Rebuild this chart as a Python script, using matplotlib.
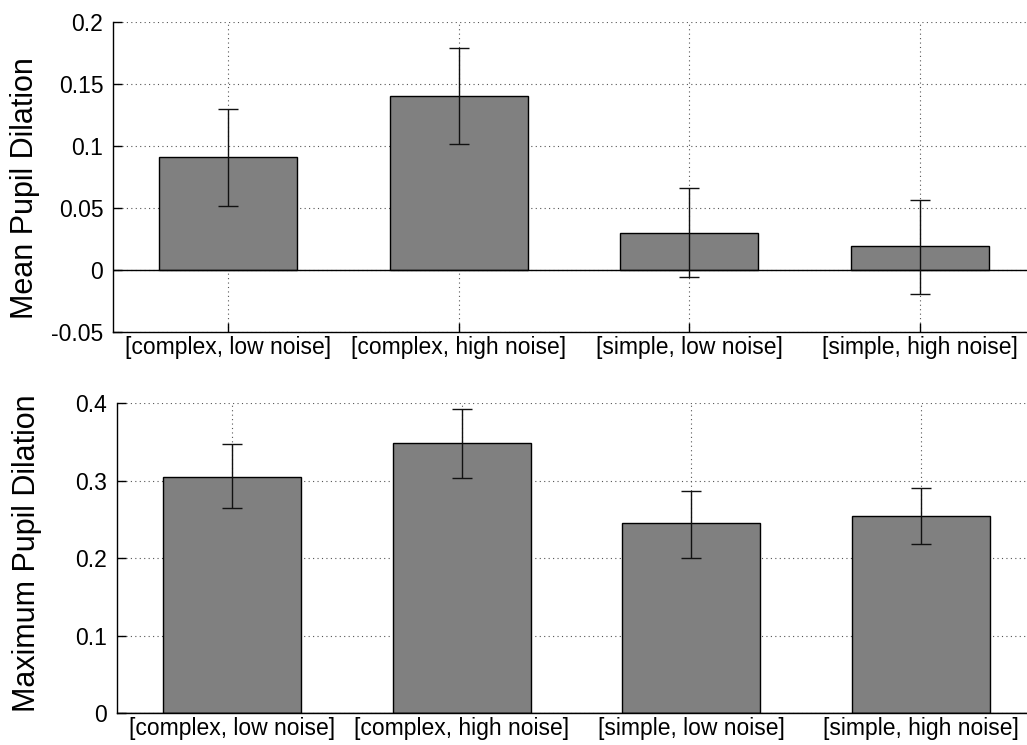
import matplotlib
matplotlib.use("Agg")
import matplotlib.pyplot as plt
import numpy as np

plt.rcParams['font.family'] = ['Liberation Sans', 'DejaVu Sans']

categories = ["[complex, low noise]", "[complex, high noise]",
              "[simple, low noise]", "[simple, high noise]"]

mean_vals = [0.091, 0.140, 0.030, 0.019]
mean_err_low = [0.0517, 0.1018, -0.0054, -0.0191]
mean_err_high = [0.1297, 0.1790, 0.0662, 0.0560]

max_vals = [0.305, 0.349, 0.245, 0.255]
max_err_low = [0.265, 0.304, 0.201, 0.2185]
max_err_high = [0.347, 0.393, 0.287, 0.291]

top_yticks = [-0.05, 0, 0.05, 0.1, 0.15, 0.2]
top_yticklabels = ["-0.05", "0", "0.05", "0.1", "0.15", "0.2"]
bot_yticks = [0, 0.1, 0.2, 0.3, 0.4]
bot_yticklabels = ["0", "0.1", "0.2", "0.3", "0.4"]

W, H = 1027, 745
fig = plt.figure(figsize=(W / 100, H / 100), dpi=100)

ax1 = fig.add_axes([113 / W, 1 - 332 / H, (1035 - 113) / W, (332 - 21.7) / H])
ax2 = fig.add_axes([117 / W, 1 - 713.3 / H, (1036 - 117) / W, 310 / H])

x = np.arange(1, len(categories) + 1)


def draw(ax, vals, lo, hi, yticks, yticklabels, ylim, ylabel, labelx, labely):
    ax.set_axisbelow(True)
    ax.bar(x, vals, width=0.6, color='#808080', edgecolor='black', linewidth=1.0, zorder=2)
    vals_a = np.array(vals)
    yerr = np.vstack([vals_a - np.array(lo), np.array(hi) - vals_a])
    ax.errorbar(x, vals, yerr=yerr, fmt='none', ecolor='#111111', elinewidth=1.0,
                capsize=7.5, capthick=1.0, zorder=3)
    ax.axhline(0, color='black', linewidth=1.0, zorder=2.5)
    ax.set_xlim(0.5, 4.5)
    ax.set_ylim(*ylim)
    ax.set_xticks(x)
    ax.set_xticklabels(categories, fontsize=16.5)
    ax.set_yticks(yticks)
    ax.set_yticklabels(yticklabels, fontsize=16.5)
    ax.grid(True, linestyle=(0, (1, 3)), color='#555555', linewidth=0.8)
    for s in ['top', 'right']:
        ax.spines[s].set_visible(False)
    for s in ['left', 'bottom']:
        ax.spines[s].set_color('black')
        ax.spines[s].set_linewidth(1.0)
    ax.tick_params(direction='in', length=6.5, width=1.0, colors='black')
    ax.tick_params(axis='y', pad=7)
    ax.tick_params(axis='x', pad=3)
    fig.text(labelx, labely, ylabel, fontsize=22, rotation=90,
             ha='center', va='center')


draw(ax1, mean_vals, mean_err_low, mean_err_high, top_yticks, top_yticklabels,
     (-0.05, 0.2), "Mean Pupil Dilation", 25 / W, 1 - 188 / H)
draw(ax2, max_vals, max_err_low, max_err_high, bot_yticks, bot_yticklabels,
     (0, 0.4), "Maximum Pupil Dilation", 27 / W, 1 - 553 / H)

fig.savefig("out.png", dpi=100)
